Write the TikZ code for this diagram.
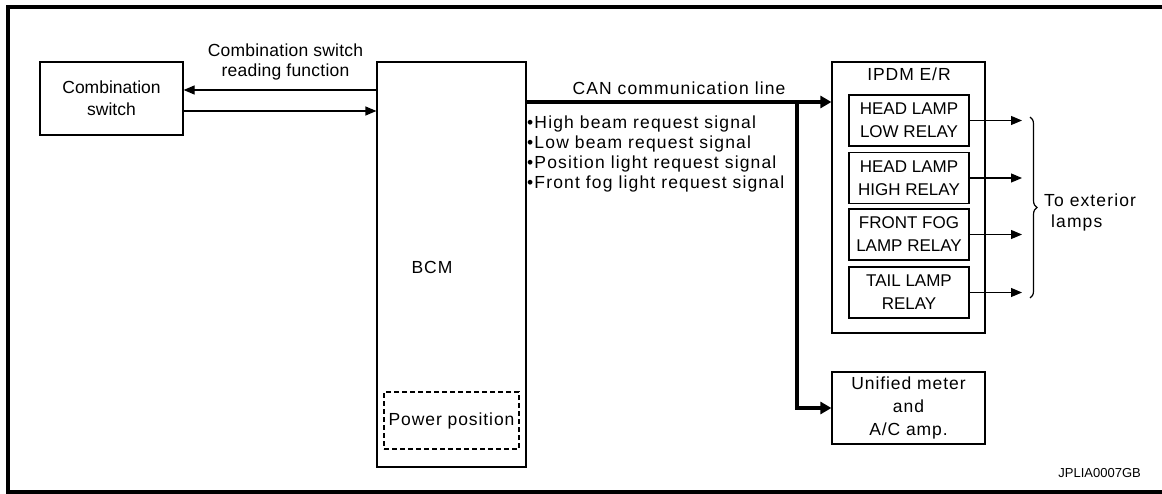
\documentclass[tikz,border=0pt]{standalone}
\usepackage{fontspec}
\setmainfont{Liberation Sans}
\usetikzlibrary{arrows.meta,decorations.pathreplacing}
\begin{document}
\begin{tikzpicture}[x=1pt,y=-1pt,
  box/.style={draw,line width=1.2pt,inner sep=0pt,align=center},
  txt/.style={font=\fontsize{17.5}{23}\selectfont\addfontfeature{LetterSpace=5.3}},
  plain/.style={font=\fontsize{17.5}{22}\selectfont},
  relaytxt/.style={font=\fontsize{17}{23}\selectfont},
  lbl/.style={inner sep=0pt,align=center},
  arr/.style={line width=1.2pt,-{Triangle[length=11pt,width=9pt]}},
  can/.style={line width=3.5pt,-{Triangle[length=11pt,width=12pt]}},
  dashbox/.style={draw,line width=1.2pt,dash pattern=on 5pt off 3pt,inner sep=0pt}
]
\useasboundingbox (0,0) rectangle (1162,494);
% outer frame
\draw[line width=3.5pt,line join=miter] (1162,7) -- (8,7) -- (8,492) -- (1162,492);

% nodes
\node[box,plain,minimum width=143pt,minimum height=73pt] (cs) at (111.5,98.5) {Combination\\switch};
\node[box,minimum width=149pt,minimum height=405pt] (bcm) at (451.5,264.5) {};
\node[lbl,txt] (bcmlbl) at (432,267) {BCM};
\node[dashbox,txt,minimum width=135pt,minimum height=57pt] (pp) at (451.5,420.5) {Power position};

\node[box,minimum width=153pt,minimum height=271pt] (ipdm) at (908.5,197.5) {};
\node[lbl,txt] (ipdmlbl) at (909,74) {IPDM E/R};
\node[box,relaytxt,minimum width=120pt,minimum height=51pt] (r1) at (909,120.5) {HEAD LAMP\\LOW RELAY};
\node[box,relaytxt,minimum width=120pt,minimum height=51pt] (r2) at (909,178) {HEAD LAMP\\HIGH RELAY};
\node[box,relaytxt,minimum width=120pt,minimum height=51pt] (r3) at (909,234.5) {FRONT FOG\\LAMP RELAY};
\node[box,relaytxt,minimum width=120pt,minimum height=51pt] (r4) at (909,292.5) {TAIL LAMP\\RELAY};

\node[box,txt,minimum width=153pt,minimum height=72pt] (um) at (908.5,408) {Unified meter\\and\\A/C amp.};

% labels
\node[lbl,font=\fontsize{17.5}{20}\selectfont\addfontfeature{LetterSpace=1.3}] (cslbl) at (285.5,62) {Combination switch\\reading function};
\node[lbl,font=\fontsize{17.5}{22}\selectfont\addfontfeature{LetterSpace=6.4}] (canlbl) at (679,88) {CAN communication line};
\node[lbl,font=\fontsize{17.5}{20}\selectfont\addfontfeature{LetterSpace=6.6},align=left,anchor=north west] (sig) at (527,116)
  {•High beam request signal\\•Low beam request signal\\•Position light request signal\\•Front fog light request signal};
\node[lbl,font=\fontsize{17.5}{21}\selectfont\addfontfeature{LetterSpace=6.4},align=left,anchor=west] (ext) at (1044,212) {To exterior\\\hspace{7pt}lamps};
\node[lbl,font=\fontsize{13}{15}\selectfont,anchor=east] (code) at (1141,473) {JPLIA0007GB};

% combination switch arrows
\coordinate (up) at (0,90);
\coordinate (dn) at (0,111);
\draw[arr] (up -| bcm.west) -- (up -| cs.east);
\draw[arr] (dn -| cs.east) -- (dn -| bcm.west);

% CAN line
\coordinate (junc) at (797,102);
\draw[can] (junc -| bcm.east) -- (junc -| ipdm.west);
\draw[can,line join=miter] (junc) |- (um.west);

% relay outputs
\coordinate (ax) at (1022,0);
\foreach \r in {r1,r2,r3,r4}{
  \draw[arr] (\r.east) -- (\r.east -| ax);
}

% brace
\coordinate (bt) at (1030,117);
\coordinate (bb) at (1030,298);
\draw[line width=1.2pt,decorate,decoration={brace,amplitude=7pt}] (bt) -- (bb);
\end{tikzpicture}
\end{document}
